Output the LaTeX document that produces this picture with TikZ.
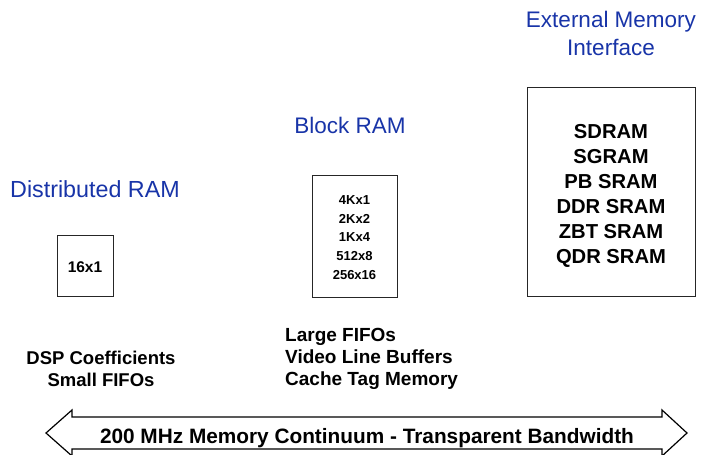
\documentclass[tikz,border=0pt]{standalone}
\usepackage{fontspec}
\setmainfont{Liberation Sans}
\definecolor{hdrblue}{RGB}{24,52,168}
\begin{document}
\begin{tikzpicture}[x=1pt,y=-1pt,
  membox/.style={draw=black!85, line width=0.9pt, inner sep=0pt},
  boxtext/.style={inner sep=0pt, align=center},
  hdr/.style={text=hdrblue, font=\fontsize{22.5}{28}\selectfont, align=center, anchor=base},
  lbl/.style={font=\bfseries\fontsize{18.5}{22}\selectfont, inner sep=0pt},
  bigarrow/.style={draw=black, line width=1.2pt, line join=miter},
]
\useasboundingbox (0,0) rectangle (702,455);
% headers
\node[hdr] (exthdr) at (611,55.5) {External Memory\\Interface};
\node[hdr] (blkhdr) at (350,133) {Block RAM};
\node[hdr, font=\fontsize{23.3}{28}\selectfont] (disthdr) at (95,197) {Distributed RAM};
% boxes
\node[membox, minimum width=56pt, minimum height=61pt] (dist) at (85,265.5) {};
\node[boxtext, font=\bfseries\fontsize{15.5}{18}\selectfont] (disttxt) at (85,267) {16x1};
\node[membox, minimum width=85pt, minimum height=122pt] (blk) at (354.5,236) {};
\node[boxtext, font=\bfseries\fontsize{13}{18.7}\selectfont] (blktxt) at (354.5,237.5)
      {4Kx1\\2Kx2\\1Kx4\\512x8\\256x16};
\node[membox, minimum width=168pt, minimum height=209pt] (ext) at (611,191.5) {};
\node[boxtext, font=\bfseries\fontsize{20.2}{25}\selectfont] (exttxt) at (611,195.5)
      {SDRAM\\SGRAM\\PB SRAM\\DDR SRAM\\ZBT SRAM\\QDR SRAM};
% usage labels
\node[lbl, align=center] (distuse) at (101,369) {DSP Coefficients\\Small FIFOs};
\node[lbl, font=\bfseries\fontsize{19}{22}\selectfont, align=left, anchor=west] (blkuse) at (285,359)
      {Large FIFOs\\Video Line Buffers\\Cache Tag Memory};
% bandwidth arrow
\draw[bigarrow] (46,433) -- (72,410) -- (72,417) -- (662,417) -- (662,410)
   -- (687,433) -- (662,456) -- (662,449) -- (72,449) -- (72,456) -- cycle;
\node[font=\bfseries\fontsize{20.8}{24}\selectfont, anchor=base] (bw) at (367,443)
   {200 MHz Memory Continuum - Transparent Bandwidth};
\end{tikzpicture}
\end{document}
